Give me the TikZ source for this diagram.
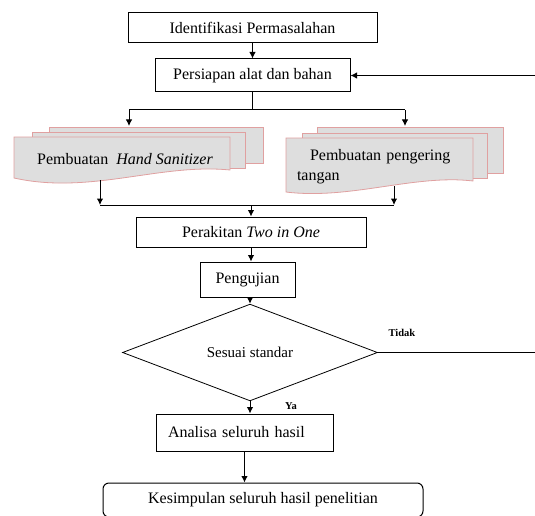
\documentclass[tikz,border=0pt]{standalone}
\usepackage{fontspec}
\setmainfont{Liberation Serif}
\usetikzlibrary{positioning, arrows.meta, shapes.geometric}
\definecolor{sheetline}{HTML}{E0A0A0}
\definecolor{sheetfill}{HTML}{DEDEDE}
\tikzset{
>={Latex[length=6.5pt,width=6.5pt]}, % small filled arrow heads
every node/.style={font=\fontsize{16}{20}\selectfont}, % text size of the whole chart
box/.style={draw, line width=1pt, inner sep=0pt}, % plain process boxes
sheet/.style={draw=sheetline, fill=sheetfill, line width=0.8pt}, % stacked document sheets
decision/.style={diamond, draw, line width=0.8pt, inner sep=0pt, font=\fontsize{15}{18}\selectfont}, % the check
answer/.style={font=\bfseries\fontsize{10.5}{12}\selectfont}, % Ya / Tidak labels
}

\begin{document}
\begin{tikzpicture}[x=1pt, y=-1pt, line width=1pt]
    \clip (0,0) rectangle (535,516);
    \node[box, minimum width=249pt, minimum height=30pt] (ident) at (252.5,28) {Identifikasi Permasalahan};
    \node[box, minimum width=195pt, minimum height=33pt] (persiapan) at (252.5,75.5) {Persiapan alat dan bahan};
    \draw[->] (ident.south) -- (persiapan.north);

    % the two stacked documents
    \path[sheet] (49,127) rectangle (263,163);
    \path[sheet] (32,132) rectangle (245,168);
    \path[sheet] (14,137) -- (230,137) -- (230,170) .. controls (160,163) and (90,195) .. (14,178) -- cycle;
    \node (sanitizer) at (125,159) {Pembuatan \ \textit{Hand Sanitizer}};
    \path[sheet] (317,127) rectangle (503,173);
    \path[sheet] (302,133) rectangle (487,178);
    \path[sheet] (286,138) -- (473,138) -- (473,181) .. controls (415,174) and (350,200) .. (286,192) -- cycle;
    \node[text width=166pt, align=left, inner sep=0pt] (pengering) at (380,167) {\hspace*{13pt}Pembuatan pengering\\tangan};

    \coordinate (split) at (252.5,110);
    \coordinate (splitL) at (129,110);
    \coordinate (splitR) at (405,110);
    \draw (persiapan.south) -- (split);
    \draw (splitL) -- (splitR);
    \draw[->] (splitL) -- ++(0,16);
    \draw[->] (splitR) -- ++(0,16);

    \node[box, minimum width=230pt, minimum height=30pt] (perakitan) at (251,232) {Perakitan \textit{Two in One}};
    \coordinate (sanOut) at (100,180);
    \coordinate (drierOut) at (394,186);
    \coordinate (joinL) at (100,205);
    \coordinate (joinR) at (394,205);
    \coordinate (join) at (251,205);
    \draw[->] (sanOut) -- (joinL);
    \draw[->] (drierOut) -- (joinR);
    \draw (joinL) -- (joinR);
    \draw[->] (join) -- (perakitan.north);

    \node[box, minimum width=95pt, minimum height=35pt] (pengujian) at (247.5,279.5) {Pengujian};
    \draw[->] (perakitan.south) -- (perakitan.south |- pengujian.north);

    \node[decision, minimum width=255pt, minimum height=79pt] (sesuai) at (250,352.5) {Sesuai standar};
    \draw[->] (pengujian.south -| sesuai.north) -- (sesuai.north);

    % Tidak goes back to the preparation
    \coordinate (back) at (538,352.5);
    \draw[->] (sesuai.east) -- (back) |- (persiapan.east);
    \node[answer] (tidak) at (402,333) {Tidak};
    \node[answer] (ya) at (291,406) {Ya};

    \node[box, text width=153pt, align=left, inner xsep=12pt, minimum height=37pt] (analisa) at (244.5,432.5) {Analisa seluruh hasil};
    \draw[->] (sesuai.south) -- (sesuai.south |- analisa.north);

    \node[box, rounded corners=6pt, minimum width=320pt, minimum height=34pt] (kesimpulan) at (263,500) {Kesimpulan seluruh hasil penelitian};
    \draw[->] (analisa.south) -- (analisa.south |- kesimpulan.north);
  \end{tikzpicture}
\end{document}
